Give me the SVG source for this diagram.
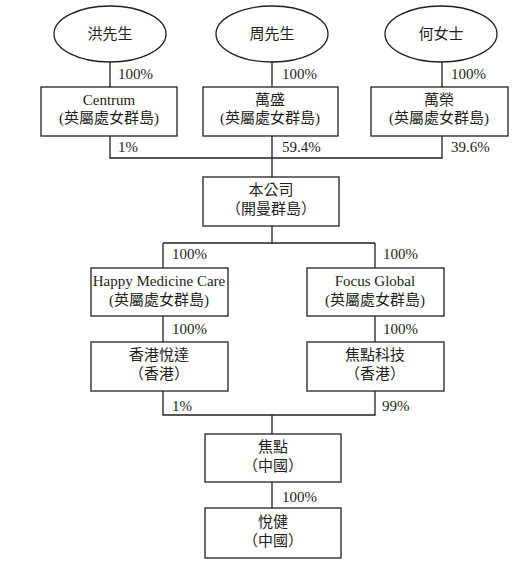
<svg xmlns="http://www.w3.org/2000/svg" width="516" height="569" viewBox="0 0 516 569">
<style>
.n{fill:#fff;stroke:#231f20;stroke-width:1.3}
.c{fill:none;stroke:#231f20;stroke-width:1.3}
text{font-family:"Liberation Serif","Noto Sans CJK TC",serif;font-size:15px;fill:#231f20}
.p{font-family:"Liberation Serif","Times New Roman",serif}
.m{text-anchor:middle}
</style>
<rect width="516" height="569" fill="#fff"/>
<g id="connectors">
<path class="c" d="M110 62V87M272 62V87M442 62V87"/>
<path class="c" d="M110 136V158H442V136M272 136V177"/>
<path class="c" d="M272 226V243M163 243H375M163 243V268M375 243V268"/>
<path class="c" d="M163 316V342M375 316V342"/>
<path class="c" d="M163 391V415H375V391M272 415V434"/>
<path class="c" d="M272 482V508"/>
</g>
<g id="labels">
<text class="p" x="118" y="79">100%</text>
<text class="p" x="282" y="79">100%</text>
<text class="p" x="451" y="79">100%</text>
<text class="p" x="118" y="152">1%</text>
<text class="p" x="282" y="152">59.4%</text>
<text class="p" x="451" y="152">39.6%</text>
<text class="p" x="172" y="259">100%</text>
<text class="p" x="383" y="259">100%</text>
<text class="p" x="172" y="334">100%</text>
<text class="p" x="383" y="334">100%</text>
<text class="p" x="172" y="411">1%</text>
<text class="p" x="382" y="411">99%</text>
<text class="p" x="282" y="502">100%</text>
</g>
<g id="hong"><ellipse class="n" cx="110" cy="34" rx="56" ry="28"/><text class="m" x="110" y="39">洪先生</text></g>
<g id="zhou"><ellipse class="n" cx="272" cy="34" rx="56" ry="28"/><text class="m" x="272" y="39">周先生</text></g>
<g id="he"><ellipse class="n" cx="441" cy="34" rx="56" ry="28"/><text class="m" x="441" y="39">何女士</text></g>
<g id="centrum"><rect class="n" x="41" y="87" width="136" height="49"/><text class="m p" x="109" y="105">Centrum</text><text class="m" x="109" y="123">(英屬處女群島)</text></g>
<g id="wansheng"><rect class="n" x="203" y="87" width="135" height="49"/><text class="m" x="270" y="105">萬盛</text><text class="m" x="270" y="123">(英屬處女群島)</text></g>
<g id="wanrong"><rect class="n" x="371" y="87" width="137" height="49"/><text class="m" x="439" y="105">萬榮</text><text class="m" x="439" y="123">(英屬處女群島)</text></g>
<g id="company"><rect class="n" x="203" y="177" width="136" height="49"/><text class="m" x="271" y="195">本公司</text><text class="m" x="271" y="214">（開曼群島）</text></g>
<g id="hmc"><rect class="n" x="91" y="268" width="137" height="48"/><text class="m p" x="159" y="286">Happy Medicine Care</text><text class="m" x="159" y="305">(英屬處女群島)</text></g>
<g id="focusglobal"><rect class="n" x="307" y="268" width="137" height="48"/><text class="m p" x="375" y="286">Focus Global</text><text class="m" x="375" y="305">(英屬處女群島)</text></g>
<g id="hkyueda"><rect class="n" x="91" y="342" width="137" height="49"/><text class="m" x="159" y="360">香港悅達</text><text class="m" x="159" y="379">（香港）</text></g>
<g id="focustech"><rect class="n" x="307" y="342" width="137" height="49"/><text class="m" x="375" y="360">焦點科技</text><text class="m" x="375" y="379">（香港）</text></g>
<g id="focuscn"><rect class="n" x="205" y="434" width="136" height="48"/><text class="m" x="273" y="452">焦點</text><text class="m" x="273" y="471">（中國）</text></g>
<g id="yuejian"><rect class="n" x="205" y="508" width="136" height="50"/><text class="m" x="273" y="527">悅健</text><text class="m" x="273" y="546">（中國）</text></g>
</svg>
